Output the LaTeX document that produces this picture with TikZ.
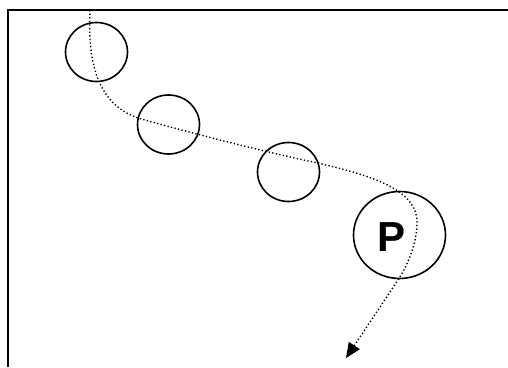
\documentclass[tikz,border=0pt]{standalone}
\usepackage{fontspec}
\setmainfont{Liberation Sans}
\usetikzlibrary{shapes.geometric,arrows.meta}
\begin{document}
\begin{tikzpicture}[x=1pt,y=1pt,
  ball/.style={ellipse,draw,line width=1.6pt,inner sep=0pt,minimum width=62pt,minimum height=59pt},
  path/.style={line width=1.4pt,dash pattern=on 1.3pt off 2.3pt},
  frame/.style={line width=1.9pt}]
\useasboundingbox (0,0) rectangle (508,367);
% frame (left and top edges)
\coordinate (fbl) at (8,0);
\coordinate (ftl) at (8,357);
\coordinate (ftr) at (508,357);
\draw[frame] (fbl) -- (ftl) -- (ftr);
% balls
\node[ball] (c1) at (96.5,315) {};
\node[ball] (c2) at (168.5,242.5) {};
\node[ball] (c3) at (288.5,195) {};
\node[ball,minimum width=92pt,minimum height=87pt] (p) at (399.5,132) {};
\node[font=\fontsize{42}{42}\selectfont\bfseries,inner sep=0pt] (plabel) at (392,130) {P};
% trajectory
\coordinate (s) at (90,357);
\coordinate (k1) at (87,300);
\coordinate (k2) at (100,262);
\coordinate (q1) at (138,249);
\coordinate (k3) at (183,236);
\coordinate (k4) at (273,213);
\coordinate (q2) at (318,204);
\coordinate (k5) at (363,193);
\coordinate (k6) at (417,180);
\coordinate (q3) at (417,145);
\coordinate (k7) at (417,125);
\coordinate (k8) at (409,104);
\coordinate (q4) at (398,87);
\coordinate (e) at (346,9);
\draw[path,-{Triangle[length=15pt,width=13pt]}]
  (s) .. controls (k1) and (k2) .. (q1)
      .. controls (k3) and (k4) .. (q2)
      .. controls (k5) and (k6) .. (q3)
      .. controls (k7) and (k8) .. (q4) -- (e);
\end{tikzpicture}
\end{document}
